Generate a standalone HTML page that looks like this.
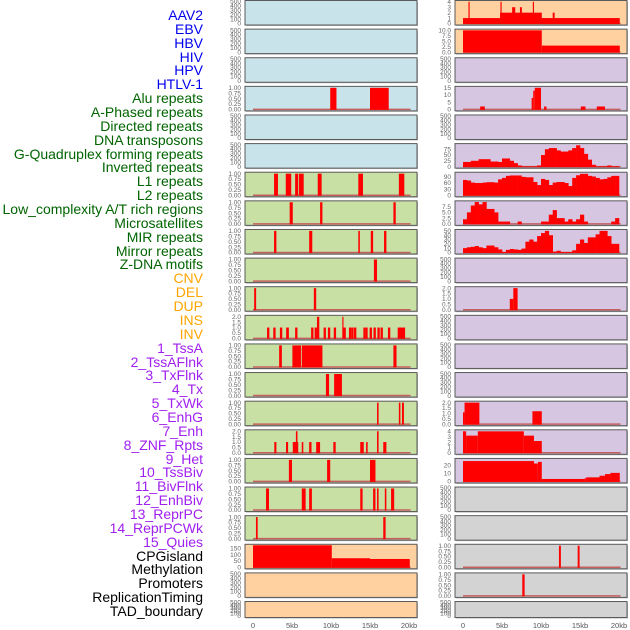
<!DOCTYPE html>
<html><head><meta charset="utf-8">
<style>
html,body{margin:0;padding:0;background:#fff;}
#wrap{position:relative;width:630px;height:630px;overflow:hidden;font-family:"Liberation Sans",sans-serif;}
.lbl{position:absolute;right:427px;font-size:14px;line-height:14px;white-space:nowrap;}
svg{position:absolute;left:0;top:0;}
</style></head>
<body>
<div id="wrap">
<svg id="chart" width="630" height="630"></svg>
</div>
<script>
// ---- data ----
const labelTexts = ["AAV2","EBV","HBV","HIV","HPV","HTLV-1","Alu repeats","A-Phased repeats","Directed repeats","DNA transposons","G-Quadruplex forming repeats","Inverted repeats","L1 repeats","L2 repeats","Low_complexity A/T rich regions","Microsatellites","MIR repeats","Mirror repeats","Z-DNA motifs","CNV","DEL","DUP","INS","INV","1_TssA","2_TssAFlnk","3_TxFlnk","4_Tx","5_TxWk","6_EnhG","7_Enh","8_ZNF_Rpts","9_Het","10_TssBiv","11_BivFlnk","12_EnhBiv","13_ReprPC","14_ReprPCWk","15_Quies","CPGisland","Methylation","Promoters","ReplicationTiming","TAD_boundary"];
const labelGroups = [6,13,5,15,5];
const groupColors = ["#0000ee","#006400","#ffa500","#a020f0","#000000"];
const xTickValues = [0,5,10,15,20];
const xTickLabels = ["0","5kb","10kb","15kb","20kb"];

const ticksEmpty = [0,100,200,300,400,500];
const ticksUnit = [0,0.25,0.5,0.75,1];
const ticksTwo = [0,0.5,1,1.5,2];
const ticksMeth = [0,50,100,150];
const ticksR0 = [0,1,2,3,4];
const ticksR1 = [0,2.5,5,7.5,10];
const ticksR3 = [0,5,10,15];
const ticksR5 = [0,25,50,75];
const ticksR6 = [0,30,60,90];
const ticksR7 = [0,2.5,5,7.5];
const ticksR8 = [0,10,20,30,40,50];
const ticksR16 = [0,10,20];

// left segments [startKb, endKb, value]
const segAlu = [[9.9,10.7,1],[15.0,17.4,1]];
const segL1 = [[2.7,3.2,1],[4.2,4.9,1],[5.4,5.8,1],[5.9,6.5,1],[8.3,8.8,1],[13.5,14.1,1],[18.7,19.4,1]];
const segL2 = [[4.7,5.1,1],[8.6,8.9,1],[18.0,18.3,1]];
const segLowAT = [[2.7,3.0,1],[7.2,7.6,1],[13.5,13.7,1],[15.1,15.4,1],[16.8,17.1,1]];
const segMicro = [[15.5,15.9,1]];
const segMIR = [[0.15,0.4,1],[7.8,8.1,1]];
const segMirror = [[1.8,2.1,1],[2.6,2.9,1],[3.45,3.75,1],[4.25,4.6,1],[5.4,5.7,1],[7.45,7.75,1],[7.9,8.2,1],[8.2,8.5,2],[9.05,9.35,1],[9.6,9.9,1],[10.35,10.65,1],[11.45,11.6,2],[11.6,11.9,1],[12.3,12.6,1],[12.6,12.9,1],[12.95,13.25,1],[14.15,14.4,1],[14.4,14.7,1],[14.95,15.25,1],[15.45,15.75,1],[15.95,16.25,1],[16.35,16.65,1],[17.3,17.6,1],[18.55,19.5,1]];
const segTssA = [[3.35,3.7,1],[5.05,6.15,1],[6.25,8.9,1],[18.0,18.4,1]];
const segTssAFlnk = [[9.35,9.75,1],[10.4,11.4,1]];
const segTxFlnk = [[15.9,16.1,1],[18.7,18.9,1],[19.1,19.35,1]];
const segTx = [[2.73,3.0,1],[4.23,4.5,1],[5.1,5.8,1],[5.5,5.7,2],[6.25,6.45,1],[7.2,7.5,1],[8.1,8.6,1],[10.3,10.6,1],[13.75,14.2,1],[14.5,14.7,1],[15.9,16.1,2],[16.7,17.1,1]];
const segTxWk = [[4.6,5.0,1],[9.5,9.9,1],[15.0,15.7,1]];
const segEnhG = [[1.67,2.05,1],[6.25,6.75,1],[7.2,7.55,1],[13.75,14.05,1],[15.4,15.7,1],[15.9,16.1,1],[16.9,17.1,1],[17.7,18.1,1]];
const segEnh = [[0.38,0.6,1],[16.7,17.0,1]];
const segMeth = [[0,10.1,175],[10.1,15.0,72],[15.0,20.1,66]];
// right segments
const segR0 = [[0,20.1,1],[4.75,10.1,2],[6.3,6.7,3],[7.3,7.55,3],[11.5,11.75,2],[0.7,0.85,4],[4.8,4.95,4],[8.95,9.1,4]];
const segR1 = [[0,10.1,10],[10.1,20.1,3]];
const segR3 = [[2.2,2.8,2],[8.8,9.0,8],[9.0,9.2,13],[9.2,10.0,15],[10.4,10.7,2],[15.1,15.7,2],[17.15,18.2,2]];
const segR10 = [[6.0,6.45,1],[6.45,7.0,2]];
const segR14 = [[0,0.2,1.1],[0.2,2.1,2],[8.9,10.1,1.2]];
const segR15 = [[0,0.4,4],[0.4,1.9,3.2],[1.9,7.8,4],[7.8,9.1,3.2],[9.1,10.1,2.2]];
const segR16 = [[0,9.1,25],[9.1,9.6,22],[9.6,10.1,24],[10.1,15.6,3],[15.6,15.8,4],[15.8,17.5,5],[17.5,18.2,7],[18.2,18.9,9],[18.9,20.1,10.5]];
const segR19 = [[12.3,12.55,1],[14.7,14.95,1]];
const segR20 = [[7.6,7.9,1]];
// right profiles (0.5kb bins)
const profR5 = [20,20,25,25,32,32,32,22,22,20,35,35,25,15,5,1,1,1,1,5,50,75,80,80,70,65,65,70,80,92,80,55,30,8,1,1,1,5,1,1];
const profR6 = [75,72,62,60,60,62,64,64,62,78,85,95,97,97,97,90,88,88,65,50,80,75,50,62,65,65,60,45,85,98,105,105,95,92,85,78,80,88,95,95];
const profR7 = [2,5,8,9.5,8.5,9.5,6.5,6.5,5,1,1,1,0,0,1,0,0,0,0,0,1,1,4,6,2.5,2.5,1,2,1,2,4,1,0,0,0,0,0,0,1,2.5];
const profR8 = [10,12,13,15,12,10,16,16,12,7,1,6,8,7,6,9,25,30,25,38,45,50,40,2,4,1,1,1,5,20,30,22,35,35,42,50,50,38,20,20];

const LB="#c8e3ea", LG="#c8e0a4", PE="#ffd1a0", LV="#d6c6e2", GR="#d3d3d3";
// panel spec: [bg, ticks, tickFmtDigits, max, kind, data]
const leftPanels = [
 [LB,ticksEmpty,0,500,null,null],[LB,ticksEmpty,0,500,null,null],[LB,ticksEmpty,0,500,null,null],
 [LB,ticksUnit,2,1.02,"seg",segAlu],[LB,ticksEmpty,0,500,null,null],[LB,ticksEmpty,0,500,null,null],
 [LG,ticksUnit,2,1.02,"seg",segL1],[LG,ticksUnit,2,1.02,"seg",segL2],[LG,ticksUnit,2,1.02,"seg",segLowAT],
 [LG,ticksUnit,2,1.02,"seg",segMicro],[LG,ticksUnit,2,1.02,"seg",segMIR],[LG,ticksTwo,1,2.04,"seg",segMirror],
 [LG,ticksUnit,2,1.02,"seg",segTssA],[LG,ticksUnit,2,1.02,"seg",segTssAFlnk],[LG,ticksUnit,2,1.02,"seg",segTxFlnk],
 [LG,ticksTwo,1,2.04,"seg",segTx],[LG,ticksUnit,2,1.02,"seg",segTxWk],[LG,ticksUnit,2,1.02,"seg",segEnhG],
 [LG,ticksUnit,2,1.02,"seg",segEnh],[PE,ticksMeth,0,175,"seg",segMeth],[PE,ticksEmpty,0,500,null,null],[PE,ticksEmpty,0,500,null,null]
];
const rightPanels = [
 [PE,ticksR0,0,4.05,"seg",segR0],[PE,ticksR1,1,10.1,"seg",segR1],[LV,ticksEmpty,0,500,null,null],
 [LV,ticksR3,0,15.3,"seg",segR3],[LV,ticksEmpty,0,500,null,null],[LV,ticksR5,0,95,"prof",profR5],
 [LV,ticksR6,0,108,"prof",profR6],[LV,ticksR7,1,9.6,"prof",profR7],[LV,ticksR8,0,51,"prof",profR8],
 [LV,ticksEmpty,0,500,null,null],[LV,ticksTwo,1,2.04,"seg",segR10],[LV,ticksEmpty,0,500,null,null],
 [LV,ticksEmpty,0,500,null,null],[LV,ticksEmpty,0,500,null,null],[LV,ticksTwo,1,2.04,"seg",segR14],
 [LV,ticksR0,0,4.1,"seg",segR15],[LV,ticksR16,0,27,"seg",segR16],[GR,ticksEmpty,0,500,null,null],
 [GR,ticksEmpty,0,500,null,null],[GR,ticksUnit,2,1.02,"seg",segR19],[GR,ticksUnit,2,1.02,"seg",segR20],[GR,ticksEmpty,0,500,null,null]
];

// ---- drawing ----
const NS="http://www.w3.org/2000/svg";
const svg=document.getElementById('chart');
const wrap=document.getElementById('wrap');
function mk(tag,attrs,parent){const e=document.createElementNS(NS,tag);for(const k in attrs)e.setAttribute(k,attrs[k]);(parent||svg).appendChild(e);return e;}

// labels
let li=0;
labelGroups.forEach((n,g)=>{for(let k=0;k<n;k++){
  const d=document.createElement('div');
  d.className='lbl';
  d.style.top=(8+li*13.86)+'px';
  d.style.color=groupColors[g];
  d.textContent=labelTexts[li];
  
  
  wrap.appendChild(d);li++;}});

const PITCH=28.62;
function drawPanel(spec,row,px0,side){
  const [bg,ticks,dig,max,kind,data]=spec;
  const top=row*PITCH+0.5, h=(row===21?16:24.5), w=172;
  const g=mk('g',{});
  
  
  mk('rect',{x:px0+1,y:top+1,width:w,height:h,fill:'#bbb'},g);
  mk('rect',{x:px0,y:top,width:w,height:h,fill:bg,stroke:'#5a5a5a','stroke-width':1},g);
  const x0=px0+8, sx=7.8;
  const xs=kb=>x0+kb*sx;
  const ybot=top+h-1.5, ys=v=>ybot-(v/max)*(h-2.5);
  // y ticks
  ticks.forEach(t=>{
    const tx=mk('text',{x:px0-4,y:ys(t)+2.2,'font-size':6.5,'text-anchor':'end',fill:'#666','font-family':'Liberation Sans, sans-serif'},g);
    tx.textContent=t.toFixed(dig);
    
    
  });
  if(!kind) return;
  mk('line',{x1:xs(0),x2:xs(20.2),y1:ybot,y2:ybot,stroke:'#c46060','stroke-width':1.5},g);
  if(kind==="seg"){
    data.forEach(s=>{
      const r=mk('rect',{x:xs(s[0]),y:ys(s[2]),width:Math.max(1.2,(s[1]-s[0])*sx),height:ybot-ys(s[2])+0.5,fill:'#ff0000'},g);
      
      
    });
  } else {
    data.forEach((v,i)=>{
      if(v<=0) return;
      const r=mk('rect',{x:xs(i*0.5),y:ys(v),width:0.5*sx+0.3,height:ybot-ys(v)+0.5,fill:'#ff0000'},g);
      
      
    });
  }
}
leftPanels.forEach((p,i)=>drawPanel(p,i,245,'left'));
rightPanels.forEach((p,i)=>drawPanel(p,i,455,'right'));

[253,463].forEach(x0=>{
  xTickValues.forEach((v,i)=>{
    const t=mk('text',{x:x0+v*7.8,y:628,'font-size':7.5,'text-anchor':'middle',fill:'#555','font-family':'Liberation Sans, sans-serif'});
    t.textContent=xTickLabels[i];
    
    
  });
});
</script>
</body></html>
